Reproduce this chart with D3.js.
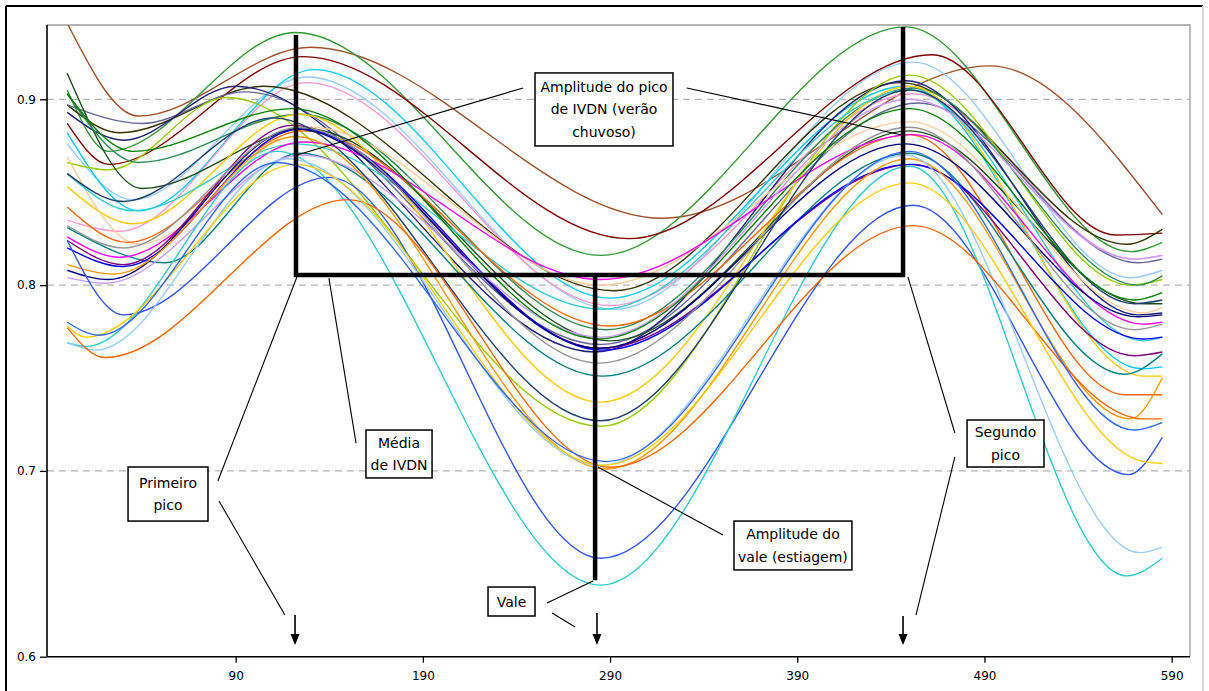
<!DOCTYPE html>
<html><head><meta charset="utf-8">
<script src="https://cdn.jsdelivr.net/npm/d3@7"></script>
<style>
html,body{margin:0;padding:0;background:#fff;}
svg{display:block;}
</style></head>
<body>
<svg id="chart" width="1209" height="691"></svg>
<script>
// ---- axis ticks ----
const xTicks = [90, 190, 290, 390, 490, 590];
const yTicks = [0.6, 0.7, 0.8, 0.9];
const gridValues = [0.7, 0.8, 0.9];

// ---- series (x = day, value = IVDN), key points ----
const s01 = [[0,.941],[38,.891],[130,.928],[318,.836],[493,.918],[585,.838]];
const s02 = [[0,.905],[22,.872],[122,.936],[285,.816],[448,.939],[568,.818],[585,.823]];
const s03 = [[0,.887],[22,.865],[126,.923],[300,.825],[462,.924],[560,.827],[585,.828]];
const s04 = [[0,.876],[35,.846],[128,.912],[292,.787],[452,.920],[568,.804],[585,.808]];
const s05 = [[0,.882],[38,.840],[132,.916],[290,.793],[448,.907],[574,.755],[585,.756]];
const s06 = [[0,.835],[28,.829],[128,.909],[290,.789],[452,.903],[570,.814],[585,.816]];
const s07 = [[0,.897],[28,.882],[105,.907],[292,.797],[445,.909],[566,.822],[585,.830]];
const s08 = [[0,.897],[40,.887],[95,.904],[285,.768],[455,.898],[572,.812],[585,.814]];
const s09 = [[0,.893],[30,.878],[90,.907],[282,.764],[448,.910],[572,.784],[585,.785]];
const s10 = [[0,.866],[22,.862],[85,.901],[285,.724],[450,.913],[568,.800],[585,.803]];
const s11 = [[0,.914],[40,.852],[128,.884],[290,.770],[450,.883],[575,.790],[585,.790]];
const s12 = [[0,.903],[38,.866],[124,.892],[288,.776],[452,.906],[572,.800],[585,.805]];
const s13 = [[0,.853],[35,.833],[124,.892],[285,.737],[450,.907],[575,.751],[585,.751]];
const s14 = [[0,.869],[38,.822],[130,.885],[285,.800],[450,.888],[575,.785],[585,.788]];
const s15 = [[0,.860],[35,.840],[122,.876],[286,.787],[450,.905],[575,.770],[585,.772]];
const s16 = [[0,.842],[32,.823],[126,.883],[290,.778],[450,.881],[565,.741],[585,.741]];
const s17 = [[0,.831],[52,.812],[124,.871],[286,.751],[450,.871],[565,.752],[585,.763]];
const s18 = [[0,.826],[28,.815],[126,.877],[285,.803],[452,.881],[575,.779],[585,.780]];
const s19 = [[0,.824],[30,.811],[120,.886],[285,.766],[452,.865],[570,.762],[585,.764]];
const s20 = [[0,.820],[30,.810],[124,.884],[286,.765],[450,.865],[575,.771],[585,.772]];
const s21 = [[0,.808],[22,.803],[122,.884],[284,.766],[448,.876],[572,.783],[585,.784]];
const s22 = [[0,.804],[20,.801],[125,.870],[285,.772],[450,.900],[570,.814],[585,.816]];
const s23 = [[0,.811],[25,.806],[122,.880],[288,.701],[450,.868],[568,.728],[585,.750]];
const s24 = [[0,.832],[30,.820],[124,.885],[284,.758],[450,.885],[570,.776],[585,.779]];
const s25 = [[0,.860],[30,.845],[110,.890],[285,.727],[450,.905],[570,.790],[585,.792]];
const s26 = [[0,.903],[35,.872],[120,.895],[284,.771],[450,.895],[570,.792],[585,.796]];
const s27 = [[0,.824],[30,.784],[140,.858],[285,.653],[452,.843],[567,.698],[585,.718]];
const s28 = [[0,.769],[10,.767],[112,.872],[285,.6385],[450,.864],[566,.6435],[585,.653]];
const s29 = [[0,.769],[15,.765],[118,.868],[285,.703],[448,.870],[573,.656],[585,.659]];
const s30 = [[0,.777],[20,.761],[150,.846],[290,.702],[452,.832],[575,.728],[585,.728]];
const s31 = [[0,.778],[10,.772],[122,.865],[286,.703],[450,.855],[575,.705],[585,.704]];
const s32 = [[0,.780],[17,.773],[112,.866],[288,.705],[450,.872],[570,.722],[585,.726]];

const seriesList = [s01,s02,s03,s04,s05,s06,s07,s08,s09,s10,s11,s12,s13,s14,s15,s16,
                    s17,s18,s19,s20,s21,s22,s23,s24,s25,s26,s27,s28,s29,s30,s31,s32];
const seriesColors = ["#A0522D","#339933","#800000","#99CCFF","#00CCFF","#FF99CC","#333300","#666699",
                      "#1F1F7A","#99CC00","#1E4D1E","#2E8B57","#FFCC00","#FFCC99","#33CCCC","#FF6600",
                      "#008080","#FF00FF","#800080","#0000FF","#000080","#CC99FF","#FF9900","#969696",
                      "#1F3F6F","#008000","#3355FF","#33CCCC","#99CCFF","#FF6600","#FFCC00","#3366FF"];

// ---- annotations (data coordinates) ----
const bracketTop = [[122.2,0.9346],[122.2,0.8054],[446.5,0.8054],[446.5,0.9389]];
const bracketValley = [[282,0.8054],[282,0.6412]];
const leaderLines = [
  [[243.5,0.9061],[122.7,0.8700]],
  [[331.0,0.9061],[445.9,0.8808]],
  [[139.8,0.8038],[154.3,0.7150]],
  [[80.5,0.6946],[122.7,0.8044]],
  [[81.1,0.6838],[116.3,0.6224]],
  [[256.3,0.6289],[280.9,0.6407]],
  [[259.0,0.6235],[271.3,0.6160]],
  [[350.3,0.6655],[283.5,0.7021]],
  [[474.2,0.7204],[449.1,0.8044]],
  [[474.2,0.7075],[453.4,0.6224]]
];
const arrows = [[121.7,0.6224,0.6063],[283.0,0.6235,0.6063],[446.5,0.6219,0.6063]];
const boxes = [
  {x1:249.9, x2:323.6, y1:0.9142, y2:0.8749, lines:["Amplitude do pico","de IVDN (verão","chuvoso)"]},
  {x1:159.6, x2:194.9, y1:0.7220, y2:0.6962, lines:["Média","de IVDN"]},
  {x1:32.5,  x2:75.2,  y1:0.7021, y2:0.6730, lines:["Primeiro","pico"]},
  {x1:224.8, x2:249.9, y1:0.6375, y2:0.6219, lines:["Vale"]},
  {x1:356.2, x2:419.2, y1:0.6730, y2:0.6467, lines:["Amplitude do","vale (estiagem)"]},
  {x1:480.7, x2:521.8, y1:0.7274, y2:0.7021, lines:["Segundo","pico"]}
];

// ---- drawing ----
const svg = d3.select("#chart");
const W = 1209, H = 691;
const plot = {left:47, right:1190, top:25, bottom:656.7};

const x = d3.scaleLinear().domain([-10.8, 599.8]).range([plot.left, plot.right]);
const y = d3.scaleLinear().domain([0.6, 0.94]).range([plot.bottom, plot.top]);

svg.append("rect").attr("width",W).attr("height",H).attr("fill","#fff");
// outer frame
svg.append("line").attr("x1",6).attr("x2",1203).attr("y1",6).attr("y2",6).attr("stroke","#000").attr("stroke-width",2);
svg.append("line").attr("x1",6).attr("x2",6).attr("y1",6).attr("y2",H).attr("stroke","#000").attr("stroke-width",2);
svg.append("line").attr("x1",1203).attr("x2",1203).attr("y1",6).attr("y2",H).attr("stroke","#d8d8d8").attr("stroke-width",2);

// plot area border (top/right gray)
svg.append("path")
  .attr("d",`M${plot.left},${plot.top}H${plot.right}V${plot.bottom}`)
  .attr("fill","none").attr("stroke","#9a9a9a").attr("stroke-width",1.3);

// gridlines
svg.append("g").selectAll("line").data(gridValues).join("line")
  .attr("x1",plot.left).attr("x2",plot.right)
  .attr("y1",d=>y(d)).attr("y2",d=>y(d))
  .attr("stroke","#b5b5b5").attr("stroke-width",1.3).attr("stroke-dasharray","7,5");

// series
const line = d3.line().x(d=>x(d[0])).y(d=>y(d[1])).curve(d3.curveMonotoneX);
const clipId = "plotclip";
svg.append("clipPath").attr("id",clipId).append("rect")
  .attr("x",plot.left).attr("y",plot.top).attr("width",plot.right-plot.left).attr("height",plot.bottom-plot.top);
svg.append("g").attr("clip-path",`url(#${clipId})`)
  .selectAll("path").data(seriesList).join("path")
  .attr("d",line).attr("fill","none")
  .attr("stroke",(d,i)=>seriesColors[i]).attr("stroke-width",1.4);

// axes
const fontAxis = "'DejaVu Sans', sans-serif";
const xAxis = d3.axisBottom(x).tickValues(xTicks).tickSize(6).tickSizeOuter(0).tickPadding(9);
const gx = svg.append("g").attr("transform",`translate(0,${plot.bottom})`).call(xAxis);
gx.select(".domain").attr("stroke","#000").attr("stroke-width",1.6).attr("d",`M${plot.left},0H${plot.right}`);
gx.selectAll(".tick line").attr("stroke","#000").attr("stroke-width",1.3);
gx.selectAll("text").attr("font-family",fontAxis).attr("font-size",12).attr("fill","#000");

const yAxis = d3.axisLeft(y).tickValues(yTicks).tickFormat(d3.format(".1f")).tickSize(7).tickSizeOuter(0).tickPadding(4);
const gy = svg.append("g").attr("transform",`translate(${plot.left},0)`).call(yAxis);
gy.select(".domain").attr("stroke","#000").attr("stroke-width",1.6).attr("d",`M0,${plot.top}V${plot.bottom}`);
gy.selectAll(".tick line").attr("stroke","#000").attr("stroke-width",1.3);
gy.selectAll("text").attr("font-family",fontAxis).attr("font-size",12).attr("fill","#000");

// annotations
const ann = svg.append("g");
const pl = d3.line().x(d=>x(d[0])).y(d=>y(d[1]));
ann.selectAll("path.lead").data(leaderLines).join("path").attr("class","lead")
  .attr("d",pl).attr("fill","none").attr("stroke","#000").attr("stroke-width",1.1);
ann.append("path").attr("d",pl(bracketTop)).attr("fill","none").attr("stroke","#000")
  .attr("stroke-width",4.5).attr("stroke-linejoin","miter");
ann.append("path").attr("d",pl(bracketValley)).attr("fill","none").attr("stroke","#000")
  .attr("stroke-width",4.5);

// arrows
arrows.forEach(a=>{
  const ax = x(a[0]), y0 = y(a[1]), y1 = y(a[2]);
  ann.append("line").attr("x1",ax).attr("x2",ax).attr("y1",y0).attr("y2",y1-8)
    .attr("stroke","#000").attr("stroke-width",1.6);
  ann.append("path").attr("d",`M${ax-4.5},${y1-11}L${ax+4.5},${y1-11}L${ax},${y1}Z`).attr("fill","#000");
});

// boxes
const bg = ann.selectAll("g.box").data(boxes).join("g").attr("class","box");
bg.append("rect")
  .attr("x",d=>x(d.x1)).attr("y",d=>y(d.y1))
  .attr("width",d=>x(d.x2)-x(d.x1)).attr("height",d=>y(d.y2)-y(d.y1))
  .attr("fill","#fff").attr("stroke","#000").attr("stroke-width",1.5);
bg.each(function(d){
  const cx = (x(d.x1)+x(d.x2))/2, cy = (y(d.y1)+y(d.y2))/2;
  const n = d.lines.length, lh = 22.5;
  d3.select(this).selectAll("text").data(d.lines).join("text")
    .attr("x",cx).attr("y",(t,i)=>cy + (i-(n-1)/2)*lh)
    .attr("text-anchor","middle").attr("dominant-baseline","central")
    .attr("font-family",fontAxis).attr("font-size",14).attr("fill","#000")
    .text(t=>t);
});
</script>
</body></html>
